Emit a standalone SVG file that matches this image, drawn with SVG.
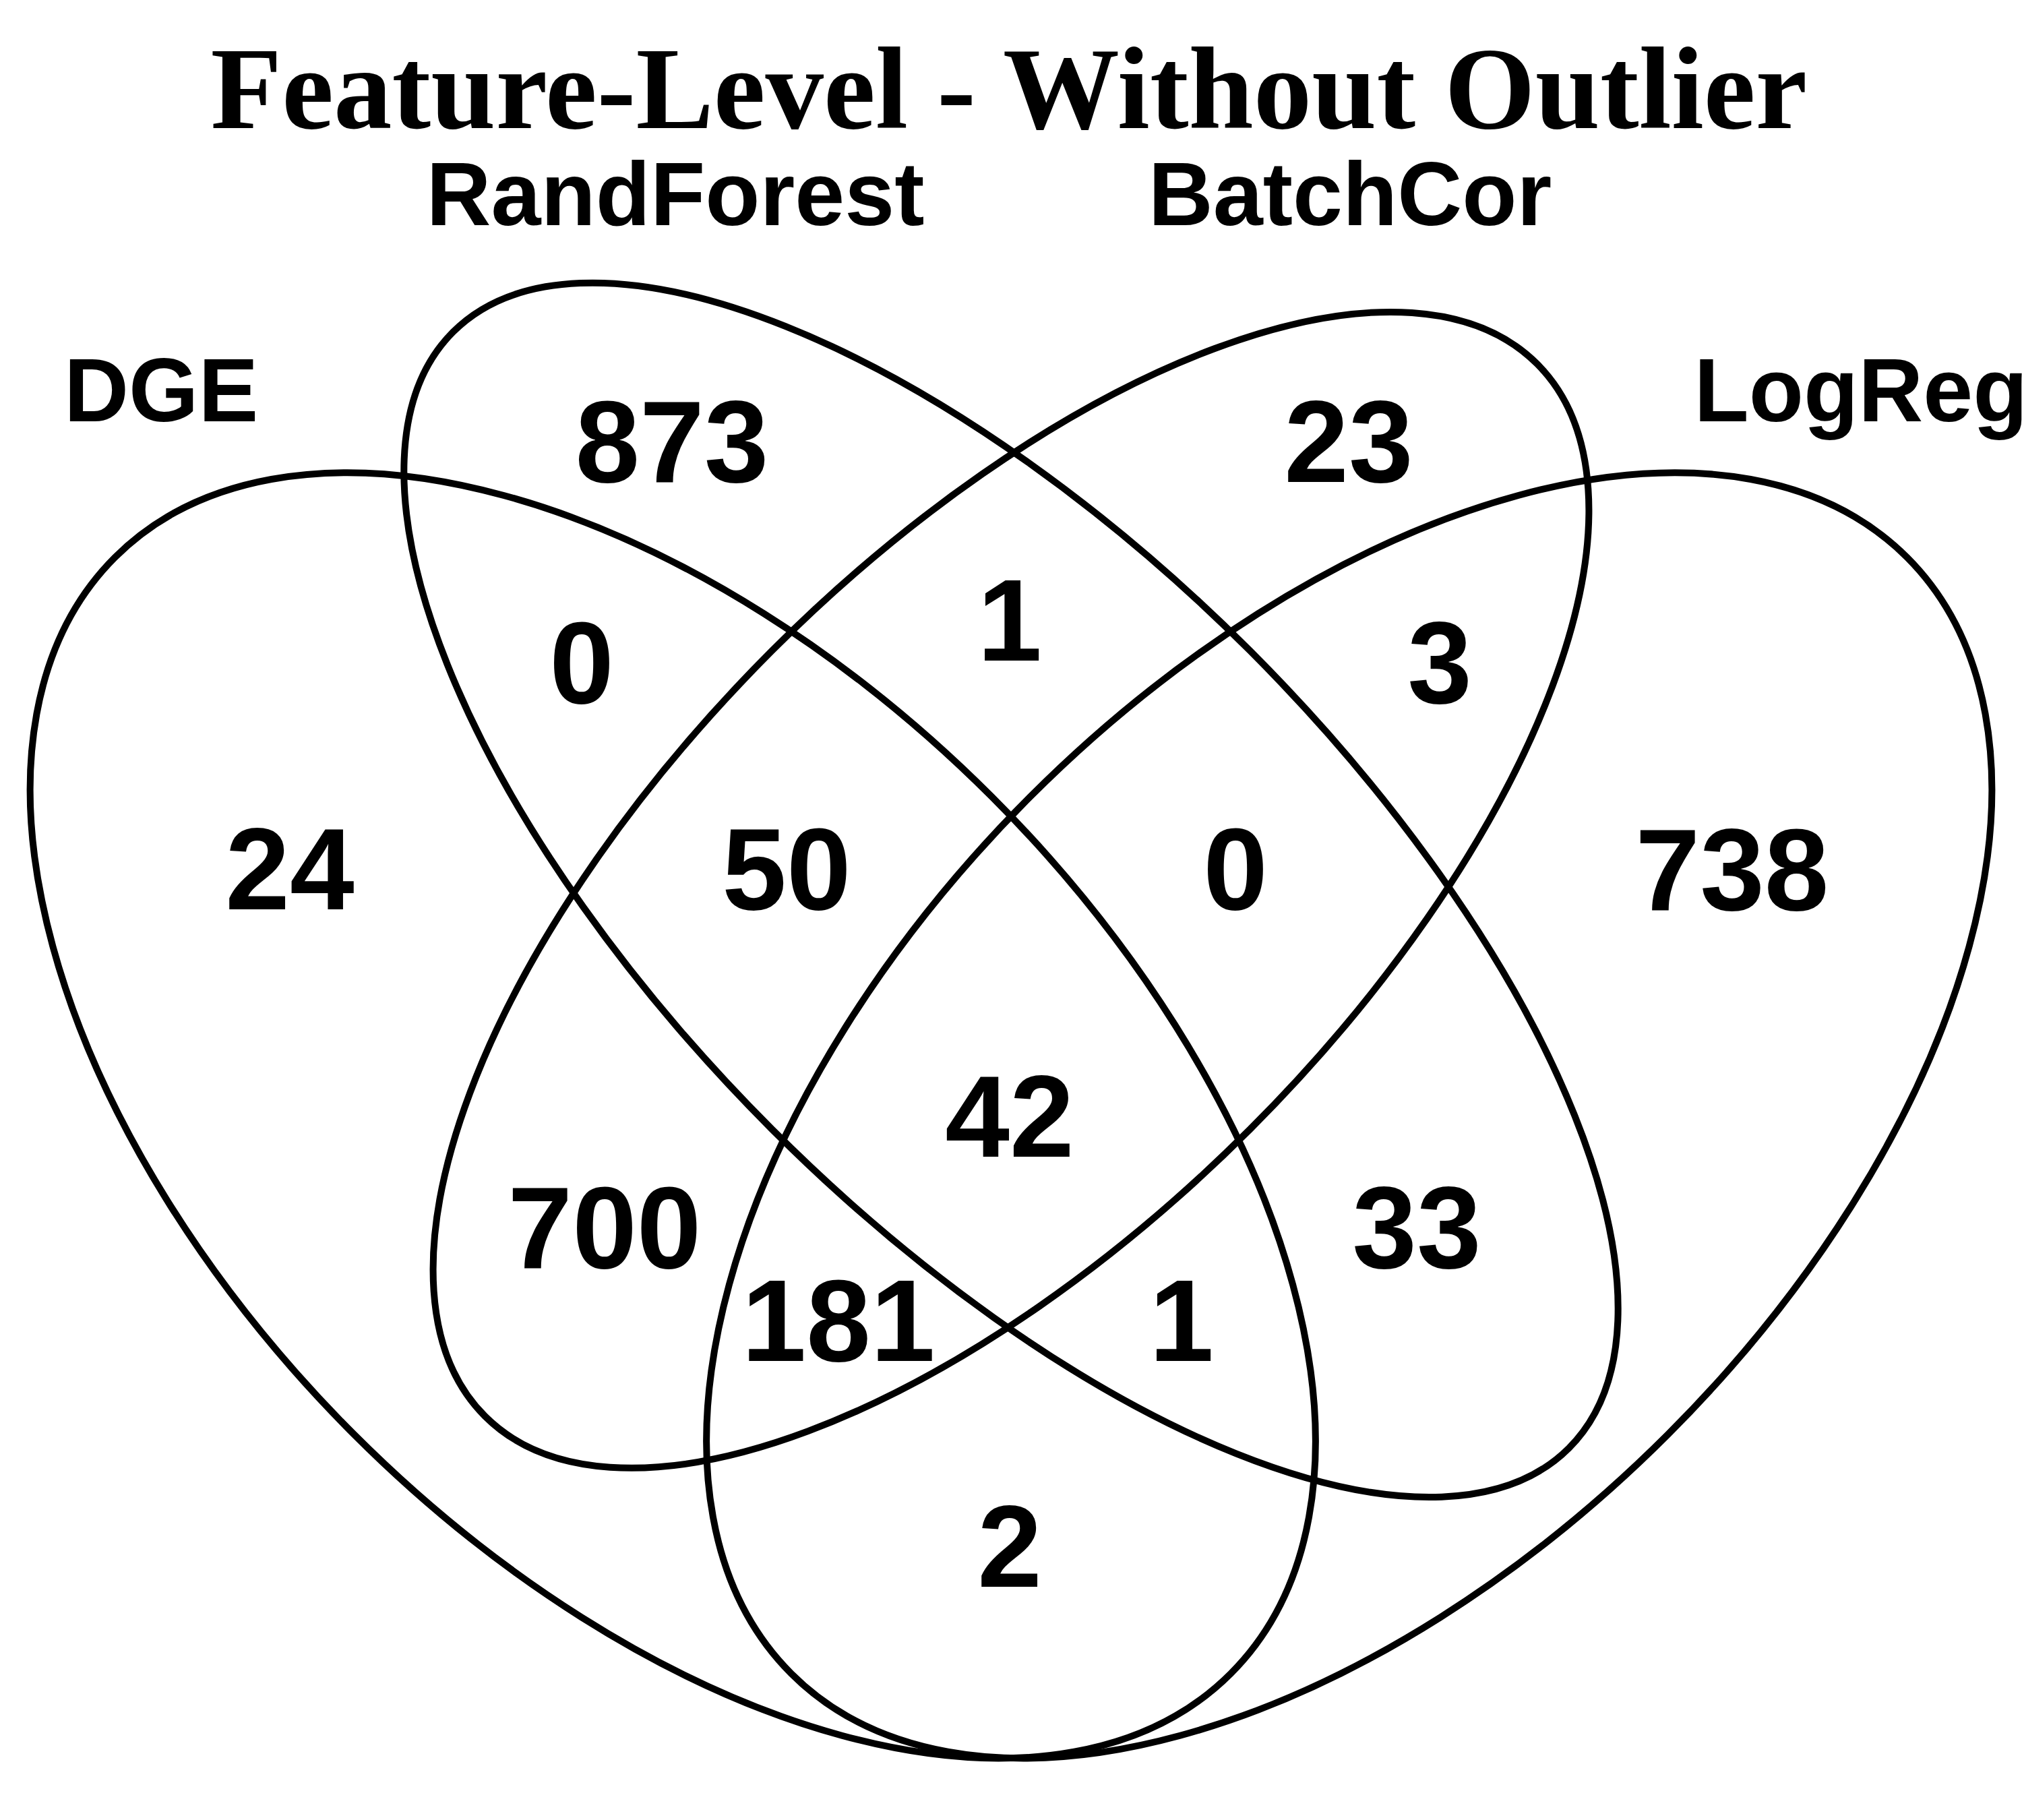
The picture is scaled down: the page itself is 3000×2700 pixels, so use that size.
<svg xmlns="http://www.w3.org/2000/svg" width="3000" height="2700" viewBox="0 0 3000 2700">
<style>
.set{fill:none;stroke:#000;stroke-width:10}
.num{font-family:"Liberation Sans",Arial,sans-serif;font-weight:bold;font-size:172px;text-anchor:middle;fill:#000}
.cat{font-family:"Liberation Sans",Arial,sans-serif;font-weight:bold;font-size:133px;text-anchor:middle;fill:#000}
.title{font-family:"Liberation Serif","Times New Roman",serif;font-weight:bold;font-size:173px;text-anchor:middle;fill:#000}
</style>
<rect width="3000" height="2700" fill="#fff"/>
<text class="title" x="1497" y="190">Feature-Level - Without Outlier</text>
<g id="connectors"></g>
<g id="DGE">
<ellipse class="set" cx="998.25" cy="1654.85" rx="1170.75" ry="669" transform="rotate(45 998.25 1654.85)"/>
<text class="cat" x="239" y="625">DGE</text>
</g>
<g id="RandForest">
<ellipse class="set" cx="1500" cy="1320.35" rx="1170.75" ry="501.75" transform="rotate(45 1500 1320.35)"/>
<text class="cat" x="1002" y="334">RandForest</text>
</g>
<g id="BatchCor">
<ellipse class="set" cx="1500" cy="1320.35" rx="1103.85" ry="501.75" transform="rotate(-45 1500 1320.35)"/>
<text class="cat" x="2003" y="334">BatchCor</text>
</g>
<g id="LogReg">
<ellipse class="set" cx="2001.75" cy="1654.85" rx="1170.75" ry="669" transform="rotate(-45 2001.75 1654.85)"/>
<text class="cat" x="2761" y="625">LogReg</text>
</g>
<g id="counts">
<text class="num" x="997" y="715">873</text>
<text class="num" x="2001" y="715">23</text>
<text class="num" x="430" y="1349">24</text>
<text class="num" x="2570" y="1350">738</text>
<text class="num" x="863" y="1043">0</text>
<text class="num" x="1498" y="980">1</text>
<text class="num" x="2136" y="1043">3</text>
<text class="num" x="1167" y="1349">50</text>
<text class="num" x="1833" y="1349">0</text>
<text class="num" x="1498" y="1716">42</text>
<text class="num" x="897" y="1881">700</text>
<text class="num" x="2102" y="1881">33</text>
<text class="num" x="1244" y="2019">181</text>
<text class="num" x="1753" y="2019">1</text>
<text class="num" x="1498" y="2354">2</text>
</g>
</svg>
